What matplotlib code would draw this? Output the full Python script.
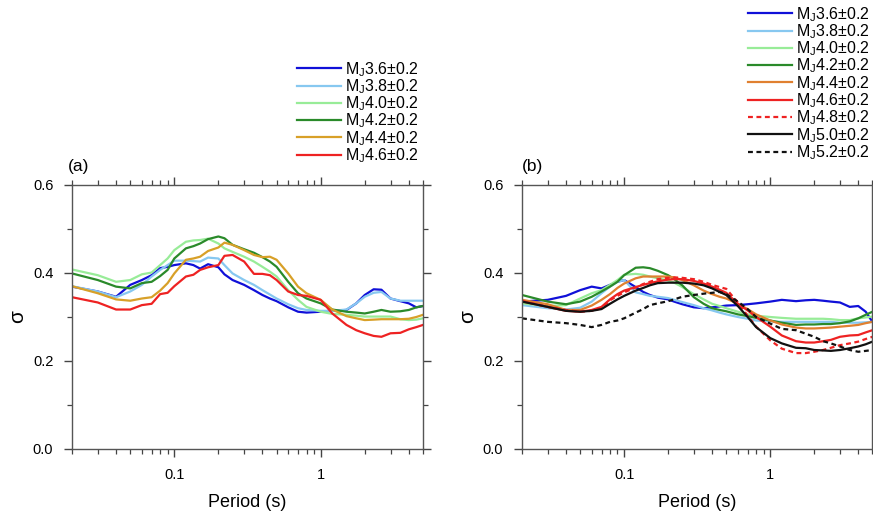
import matplotlib
matplotlib.use("Agg")
import matplotlib.pyplot as plt
from matplotlib.ticker import LogLocator, NullFormatter, FixedLocator, FixedFormatter

plt.rcParams['font.family'] = ['Liberation Sans', 'DejaVu Sans']
plt.rcParams['mathtext.fontset'] = 'custom'
plt.rcParams['mathtext.rm'] = 'Liberation Sans'
plt.rcParams['mathtext.it'] = 'Liberation Sans:italic'

# ---------------- data ----------------
periods = [0.02, 0.03, 0.04, 0.05, 0.06, 0.07, 0.08, 0.09, 0.1, 0.12, 0.135, 0.15,
           0.17, 0.2, 0.22, 0.25, 0.3, 0.35, 0.4, 0.45, 0.5, 0.6, 0.7, 0.8, 1.0,
           1.2, 1.5, 1.75, 2.0, 2.3, 2.6, 3.0, 3.5, 4.0, 4.5, 5.0]

# panel (a)
a_m36 = [0.369, 0.358, 0.346, 0.373, 0.384, 0.395, 0.411, 0.414, 0.418, 0.422, 0.418, 0.410,
         0.420, 0.413, 0.397, 0.384, 0.373, 0.361, 0.350, 0.342, 0.336, 0.322, 0.312, 0.310, 0.312,
         0.314, 0.316, 0.331, 0.350, 0.363, 0.362, 0.342, 0.336, 0.331, 0.322, 0.325]
a_m38 = [0.370, 0.358, 0.345, 0.358, 0.373, 0.392, 0.407, 0.418, 0.428, 0.428, 0.427, 0.426,
         0.435, 0.433, 0.418, 0.399, 0.384, 0.373, 0.361, 0.351, 0.342, 0.329, 0.320, 0.316, 0.314,
         0.314, 0.317, 0.331, 0.346, 0.355, 0.357, 0.342, 0.337, 0.337, 0.337, 0.337]
a_m40 = [0.408, 0.395, 0.380, 0.384, 0.397, 0.401, 0.418, 0.433, 0.452, 0.471, 0.474, 0.475,
         0.478, 0.467, 0.456, 0.448, 0.437, 0.426, 0.414, 0.403, 0.392, 0.361, 0.339, 0.323, 0.312,
         0.307, 0.305, 0.303, 0.301, 0.301, 0.301, 0.301, 0.295, 0.293, 0.294, 0.297]
a_m42 = [0.399, 0.384, 0.369, 0.365, 0.377, 0.380, 0.393, 0.407, 0.433, 0.456, 0.461, 0.467,
         0.477, 0.483, 0.479, 0.464, 0.454, 0.446, 0.436, 0.426, 0.414, 0.380, 0.354, 0.342, 0.331,
         0.317, 0.312, 0.310, 0.308, 0.312, 0.316, 0.312, 0.313, 0.316, 0.322, 0.325]
a_m44 = [0.370, 0.354, 0.340, 0.337, 0.342, 0.345, 0.360, 0.377, 0.399, 0.430, 0.433, 0.437,
         0.450, 0.458, 0.469, 0.464, 0.452, 0.441, 0.436, 0.437, 0.430, 0.399, 0.369, 0.354, 0.339,
         0.317, 0.302, 0.297, 0.293, 0.294, 0.295, 0.295, 0.295, 0.296, 0.300, 0.305]
a_m46 = [0.345, 0.333, 0.317, 0.317, 0.327, 0.330, 0.352, 0.355, 0.370, 0.392, 0.396, 0.407,
         0.413, 0.418, 0.439, 0.441, 0.426, 0.398, 0.398, 0.395, 0.384, 0.358, 0.350, 0.348, 0.339,
         0.308, 0.282, 0.270, 0.263, 0.257, 0.255, 0.263, 0.264, 0.272, 0.277, 0.282]

# panel (b)
b_m36 = [0.335, 0.339, 0.348, 0.361, 0.369, 0.365, 0.373, 0.380, 0.384, 0.368, 0.357, 0.350,
         0.344, 0.340, 0.335, 0.329, 0.322, 0.320, 0.322, 0.324, 0.326, 0.327, 0.329, 0.331, 0.335,
         0.339, 0.336, 0.338, 0.339, 0.337, 0.335, 0.333, 0.323, 0.325, 0.312, 0.289]
b_m38 = [0.327, 0.320, 0.317, 0.321, 0.335, 0.354, 0.369, 0.380, 0.384, 0.356, 0.352, 0.348,
         0.346, 0.343, 0.339, 0.334, 0.327, 0.320, 0.315, 0.310, 0.306, 0.300, 0.296, 0.292, 0.290,
         0.289, 0.289, 0.289, 0.289, 0.289, 0.289, 0.287, 0.287, 0.287, 0.288, 0.289]
b_m40 = [0.331, 0.325, 0.327, 0.342, 0.354, 0.361, 0.373, 0.384, 0.396, 0.398, 0.396, 0.392,
         0.388, 0.383, 0.378, 0.368, 0.352, 0.340, 0.330, 0.325, 0.320, 0.312, 0.306, 0.303, 0.300,
         0.298, 0.296, 0.296, 0.296, 0.296, 0.295, 0.293, 0.293, 0.297, 0.299, 0.301]
b_m42 = [0.350, 0.335, 0.329, 0.335, 0.346, 0.358, 0.369, 0.380, 0.395, 0.412, 0.413, 0.411,
         0.405, 0.395, 0.386, 0.372, 0.345, 0.330, 0.320, 0.316, 0.313, 0.306, 0.302, 0.298, 0.292,
         0.287, 0.282, 0.283, 0.283, 0.284, 0.284, 0.286, 0.290, 0.297, 0.305, 0.312]
b_m44 = [0.339, 0.329, 0.316, 0.316, 0.326, 0.339, 0.352, 0.366, 0.376, 0.388, 0.392, 0.392,
         0.392, 0.392, 0.390, 0.384, 0.372, 0.360, 0.352, 0.346, 0.342, 0.330, 0.318, 0.306, 0.292,
         0.283, 0.276, 0.274, 0.274, 0.275, 0.276, 0.278, 0.280, 0.282, 0.286, 0.289]
b_m46 = [0.336, 0.323, 0.314, 0.312, 0.316, 0.323, 0.340, 0.352, 0.360, 0.368, 0.373, 0.377,
         0.381, 0.385, 0.386, 0.386, 0.382, 0.376, 0.369, 0.362, 0.355, 0.330, 0.315, 0.300, 0.278,
         0.258, 0.245, 0.242, 0.242, 0.245, 0.248, 0.255, 0.258, 0.259, 0.265, 0.270]
b_m48 = [0.336, 0.323, 0.316, 0.312, 0.314, 0.320, 0.338, 0.348, 0.356, 0.367, 0.375, 0.380,
         0.386, 0.389, 0.390, 0.389, 0.386, 0.380, 0.373, 0.368, 0.364, 0.333, 0.303, 0.278, 0.247,
         0.228, 0.218, 0.218, 0.221, 0.225, 0.230, 0.236, 0.240, 0.244, 0.250, 0.255]
b_m50 = [0.335, 0.323, 0.314, 0.312, 0.314, 0.318, 0.330, 0.340, 0.348, 0.360, 0.366, 0.372,
         0.377, 0.378, 0.378, 0.378, 0.376, 0.372, 0.365, 0.357, 0.350, 0.325, 0.300, 0.277, 0.252,
         0.240, 0.230, 0.229, 0.225, 0.224, 0.223, 0.225, 0.229, 0.233, 0.238, 0.244]
b_m52 = [0.297, 0.289, 0.286, 0.282, 0.277, 0.282, 0.289, 0.292, 0.297, 0.310, 0.318, 0.327,
         0.331, 0.336, 0.340, 0.346, 0.350, 0.353, 0.355, 0.357, 0.352, 0.335, 0.318, 0.300, 0.285,
         0.273, 0.270, 0.262, 0.255, 0.245, 0.240, 0.233, 0.225, 0.221, 0.223, 0.225]

labels_a = ['3.6', '3.8', '4.0', '4.2', '4.4', '4.6']
labels_b = ['3.6', '3.8', '4.0', '4.2', '4.4', '4.6', '4.8', '5.0', '5.2']
y_ticks = [0.0, 0.2, 0.4, 0.6]
y_ticklabels = ['0.0', '0.2', '0.4', '0.6']
x_major = [0.1, 1]
x_ticklabels = ['0.1', '1']

# ---------------- styles ----------------
C_BLUE = '#1010d8'
C_LBLUE = '#87c8f0'
C_LGREEN = '#98ec98'
C_DGREEN = '#2a8a2a'
C_GOLD = '#d8a028'
C_ORANGE = '#e08030'
C_RED = '#ee2222'
C_BLACK = '#111111'
LW = 1.6

W, H = 873, 514
fig = plt.figure(figsize=(W / 100, H / 100), dpi=100)

def px_axes(l, r, t, b):
    return fig.add_axes([l / W, 1 - b / H, (r - l) / W, (b - t) / H])

ax_a = px_axes(72, 423, 185, 449)
ax_b = px_axes(522, 872.4, 185, 449)

def label(m):
    return r'M$_{\mathrm{J}}$' + m + '±0.2'

series_a = [(a_m36, C_BLUE, '-'), (a_m38, C_LBLUE, '-'), (a_m40, C_LGREEN, '-'),
            (a_m42, C_DGREEN, '-'), (a_m44, C_GOLD, '-'), (a_m46, C_RED, '-')]
series_b = [(b_m36, C_BLUE, '-'), (b_m38, C_LBLUE, '-'), (b_m40, C_LGREEN, '-'),
            (b_m42, C_DGREEN, '-'), (b_m44, C_ORANGE, '-'), (b_m46, C_RED, '-'),
            (b_m48, C_RED, '--'), (b_m50, C_BLACK, '-'), (b_m52, C_BLACK, '--')]

for (vals, c, ls), m in zip(series_a, labels_a):
    ax_a.plot(periods, vals, color=c, lw=LW, ls=ls, label=label(m))
for (vals, c, ls), m in zip(series_b, labels_b):
    kw = dict(dashes=(2.2, 1.6)) if ls == '--' else {}
    ax_b.plot(periods, vals, color=c, lw=LW, ls=ls, label=label(m), **kw)

for ax in (ax_a, ax_b):
    ax.set_xscale('log')
    ax.set_xlim(0.02, 5)
    ax.set_ylim(0, 0.6)
    ax.xaxis.set_major_locator(FixedLocator(x_major))
    ax.xaxis.set_major_formatter(FixedFormatter(x_ticklabels))
    ax.xaxis.set_minor_locator(LogLocator(base=10, subs=range(2, 10)))
    ax.xaxis.set_minor_formatter(NullFormatter())
    ax.set_yticks(y_ticks)
    ax.set_yticklabels(y_ticklabels)
    ax.set_yticks([0.1, 0.3, 0.5], minor=True)
    ax.tick_params(which='both', direction='out', top=True, right=True,
                   colors='#444444', labelcolor='black', labelsize=10.5)
    ax.tick_params(which='major', length=6, width=1.0)
    ax.tick_params(which='minor', length=3.5, width=0.9)
    ax.tick_params(axis='y', which='major', pad=7.5)
    ax.tick_params(axis='x', which='major', pad=8)
    for s in ax.spines.values():
        s.set_color('#555555')
        s.set_linewidth(1.0)
    ax.set_xlabel('Period (s)', fontsize=13, labelpad=8)
    ax.set_ylabel('σ', fontsize=15, labelpad=4)

ax_a.text(-0.012, 1.04, '(a)', transform=ax_a.transAxes, fontsize=12.5, ha='left', va='bottom')
ax_b.text(0.0, 1.04, '(b)', transform=ax_b.transAxes, fontsize=12.5, ha='left', va='bottom')

leg_kw = dict(frameon=False, fontsize=11.5, handlelength=2.75, handletextpad=0.25,
              labelspacing=-0.09, borderpad=0, borderaxespad=0, loc='upper left')
ax_a.legend(bbox_to_anchor=(297 / W, 1 - 60 / H), bbox_transform=fig.transFigure, **leg_kw)
ax_b.legend(bbox_to_anchor=(748 / W, 1 - 5 / H), bbox_transform=fig.transFigure, **leg_kw)

fig.savefig('out.png', dpi=100)
